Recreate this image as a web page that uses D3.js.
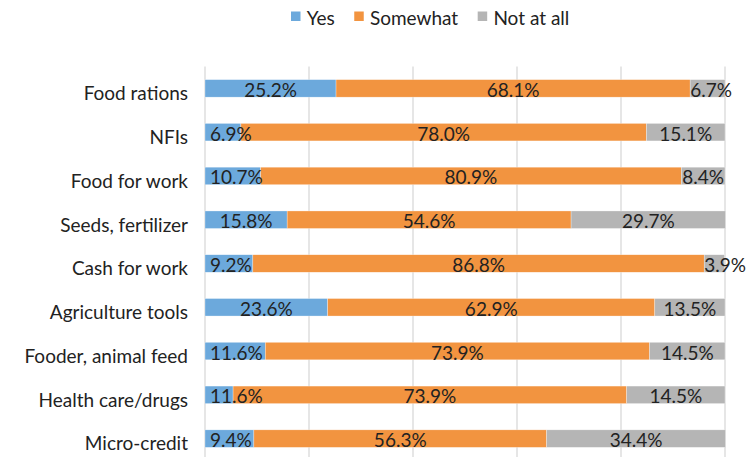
<!DOCTYPE html>
<html>
<head>
<meta charset="utf-8">
<script src="https://cdn.jsdelivr.net/npm/d3@7"></script>
<style>
  html, body { margin: 0; padding: 0; background: #fff; }
  svg { display: block; }
  text { font-family: Lato, "Open Sans", sans-serif; fill: #222; }
</style>
</head>
<body>
<svg id="chart" width="751" height="457"></svg>
<script>
// ---- data ----
const categories = ["Food rations", "NFIs", "Food for work", "Seeds, fertilizer", "Cash for work",
  "Agriculture tools", "Fooder, animal feed", "Health care/drugs", "Micro-credit"];
const seriesNames = ["Yes", "Somewhat", "Not at all"];
// bar lengths (% of total) as drawn
const yesValues      = [25.2, 6.9, 10.7, 15.8, 9.2, 23.6, 11.6, 5.4, 9.4];
const somewhatValues = [68.1, 78.0, 80.9, 54.6, 86.8, 62.9, 73.9, 75.7, 56.3];
const notAtAllValues = [6.7, 15.1, 8.4, 29.7, 3.9, 13.5, 14.5, 18.9, 34.4];
// data-label texts as printed
const yesLabels      = ["25.2%", "6.9%", "10.7%", "15.8%", "9.2%", "23.6%", "11.6%", "11.6%", "9.4%"];
const somewhatLabels = ["68.1%", "78.0%", "80.9%", "54.6%", "86.8%", "62.9%", "73.9%", "73.9%", "56.3%"];
const notAtAllLabels = ["6.7%", "15.1%", "8.4%", "29.7%", "3.9%", "13.5%", "14.5%", "14.5%", "34.4%"];
const xTicks = [0, 20, 40, 60, 80, 100];

(function () {
// ---- layout ----
const colors = ["#6CA9DC", "#F29440", "#B5B5B5"];
const svg = d3.select("#chart");
const mLeft = 205, mRight = 725, mTop = 66.5, mBottom = 460.5;

const rows = categories.map((c, i) => ({
  cat: c, "Yes": yesValues[i], "Somewhat": somewhatValues[i], "Not at all": notAtAllValues[i]
}));
const labelSets = [yesLabels, somewhatLabels, notAtAllLabels];

const x = d3.scaleLinear().domain([0, 100]).range([mLeft, mRight]);
const y = d3.scaleBand().domain(categories).range([mTop, mBottom]).paddingInner(0.6).paddingOuter(0.3);

// gridlines
svg.append("g").selectAll("line").data(xTicks).join("line")
  .attr("x1", d => x(d)).attr("x2", d => x(d))
  .attr("y1", mTop).attr("y2", 470)
  .attr("stroke", "#D9D9D9").attr("stroke-width", 1.3);

const stacked = d3.stack().keys(seriesNames)(rows);

// bars
const layers = svg.append("g").selectAll("g").data(stacked).join("g")
  .attr("fill", (d, i) => colors[i]);
layers.selectAll("rect").data(d => d).join("rect")
  .attr("x", d => x(d[0]))
  .attr("y", d => y(d.data.cat))
  .attr("width", d => x(d[1]) - x(d[0]))
  .attr("height", y.bandwidth())
  .attr("stroke", "#fff").attr("stroke-width", 0.5).attr("stroke-opacity", 0.6);

// data labels
const lblG = svg.append("g");
stacked.forEach((layer, si) => {
  layer.forEach((d, i) => {
    const t = lblG.append("text")
      .attr("font-size", 19)
      .attr("text-anchor", "start")
      .text(labelSets[si][i]);
    const w = t.node().getComputedTextLength();
    const x0 = x(d[0]), x1 = x(d[1]);
    let sx = (x0 + x1) / 2 - w / 2;
    sx = Math.max(sx, x0, mLeft + 5);
    t.attr("x", sx).attr("y", y(d.data.cat) + y.bandwidth() / 2 + 8.5);
  });
});

// category axis labels
const yAxis = d3.axisLeft(y).tickSize(0).tickPadding(17);
const ax = svg.append("g").attr("transform", `translate(${mLeft},0)`).call(yAxis);
ax.select(".domain").remove();
ax.selectAll("text")
  .attr("font-size", 19)
  .attr("font-family", "Lato, 'Open Sans', sans-serif")
  .attr("fill", "#222")
  .attr("dy", "0.62em")
  .attr("y", 0);

// legend
const leg = svg.append("g");
let lx = 291;
seriesNames.forEach((s, i) => {
  leg.append("rect").attr("x", lx).attr("y", 11.5).attr("width", 9.5).attr("height", 9.5).attr("fill", colors[i]);
  const t = leg.append("text").attr("x", lx + 15.7).attr("y", 24.5).attr("font-size", 19).text(s);
  lx = lx + 15.7 + t.node().getComputedTextLength() + 19.5;
});
})();
</script>
</body>
</html>
